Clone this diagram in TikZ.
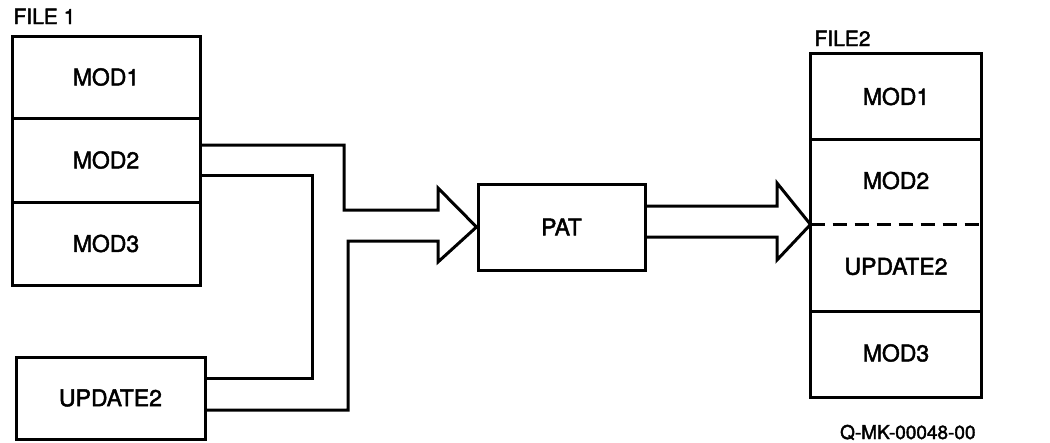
\documentclass[tikz,border=0pt]{standalone}
\usepackage{fontspec}
\setmainfont{TeX Gyre Heros}
\newfontfamily\medfont{TeX Gyre Heros}[FakeBold=2]
\usetikzlibrary{calc}
\begin{document}
\begin{tikzpicture}[x=1pt,y=-1pt,line width=3pt,
  sect/.style={rectangle,inner sep=0pt,font=\medfont\fontsize{23}{26}\selectfont},
  lbl/.style={inner sep=0pt,font=\medfont\fontsize{21}{23}\selectfont},
  dashsep/.style={dash pattern=on 14pt off 8pt}]
\useasboundingbox (0,0) rectangle (1050,442);
% FILE 1
\node[lbl,anchor=base west] (f1) at (12,24) {FILE 1};
\node[sect,draw,minimum width=188pt,minimum height=82pt] (m1) at (106,77) {MOD1};
\node[sect,draw,minimum width=188pt,minimum height=84pt] (m2) at (106,160) {MOD2};
\node[sect,draw,minimum width=188pt,minimum height=83pt] (m3) at (106,243.5) {MOD3};
\node[sect,draw,minimum width=189pt,minimum height=82pt] (upd) at (110.5,398) {UPDATE2};
% PAT
\node[sect,draw,minimum width=167pt,minimum height=86pt] (pat) at (561.5,227) {PAT};
% FILE2
\node[lbl,anchor=base west] (f2) at (813,46) {FILE2};
\node[sect,minimum width=168pt,minimum height=83pt] (r1) at (896,96.5) {MOD1};
\node[sect,minimum width=168pt,minimum height=85pt] (r2) at (896,180.5) {MOD2};
\node[sect,minimum width=168pt,minimum height=87pt] (r3) at (896,266.5) {UPDATE2};
\node[sect,minimum width=168pt,minimum height=86pt] (r4) at (896,353) {MOD3};
\draw (r1.north west) rectangle (r4.south east);
\draw (r1.south west) -- (r1.south east);
\draw[dashsep] (r2.south west) -- (r2.south east);
\draw (r3.south west) -- (r3.south east);
% left double arrow
\draw[line join=miter] (m2.east |- 0,145) -- (344,145) -- (344,210) -- (438,210) -- (438,188)
  -- (pat.west) -- (438,262) -- (438,241) -- (348,241) -- (348,410) -- (upd.east |- 0,410);
\draw[line join=miter] (m2.east |- 0,175) -- (312,175) -- (312,378) -- (upd.east |- 0,378);
% right double arrow
\draw[line join=miter] (pat.east |- 0,206) -- (777,206) -- (777,183) -- (r2.south west)
  -- (777,260) -- (777,237) -- (pat.east |- 0,237);
% code
\node[lbl,anchor=base east,font=\medfont\fontsize{19}{21}\selectfont] (code) at (977,439) {Q-MK-00048-00};
\end{tikzpicture}
\end{document}
